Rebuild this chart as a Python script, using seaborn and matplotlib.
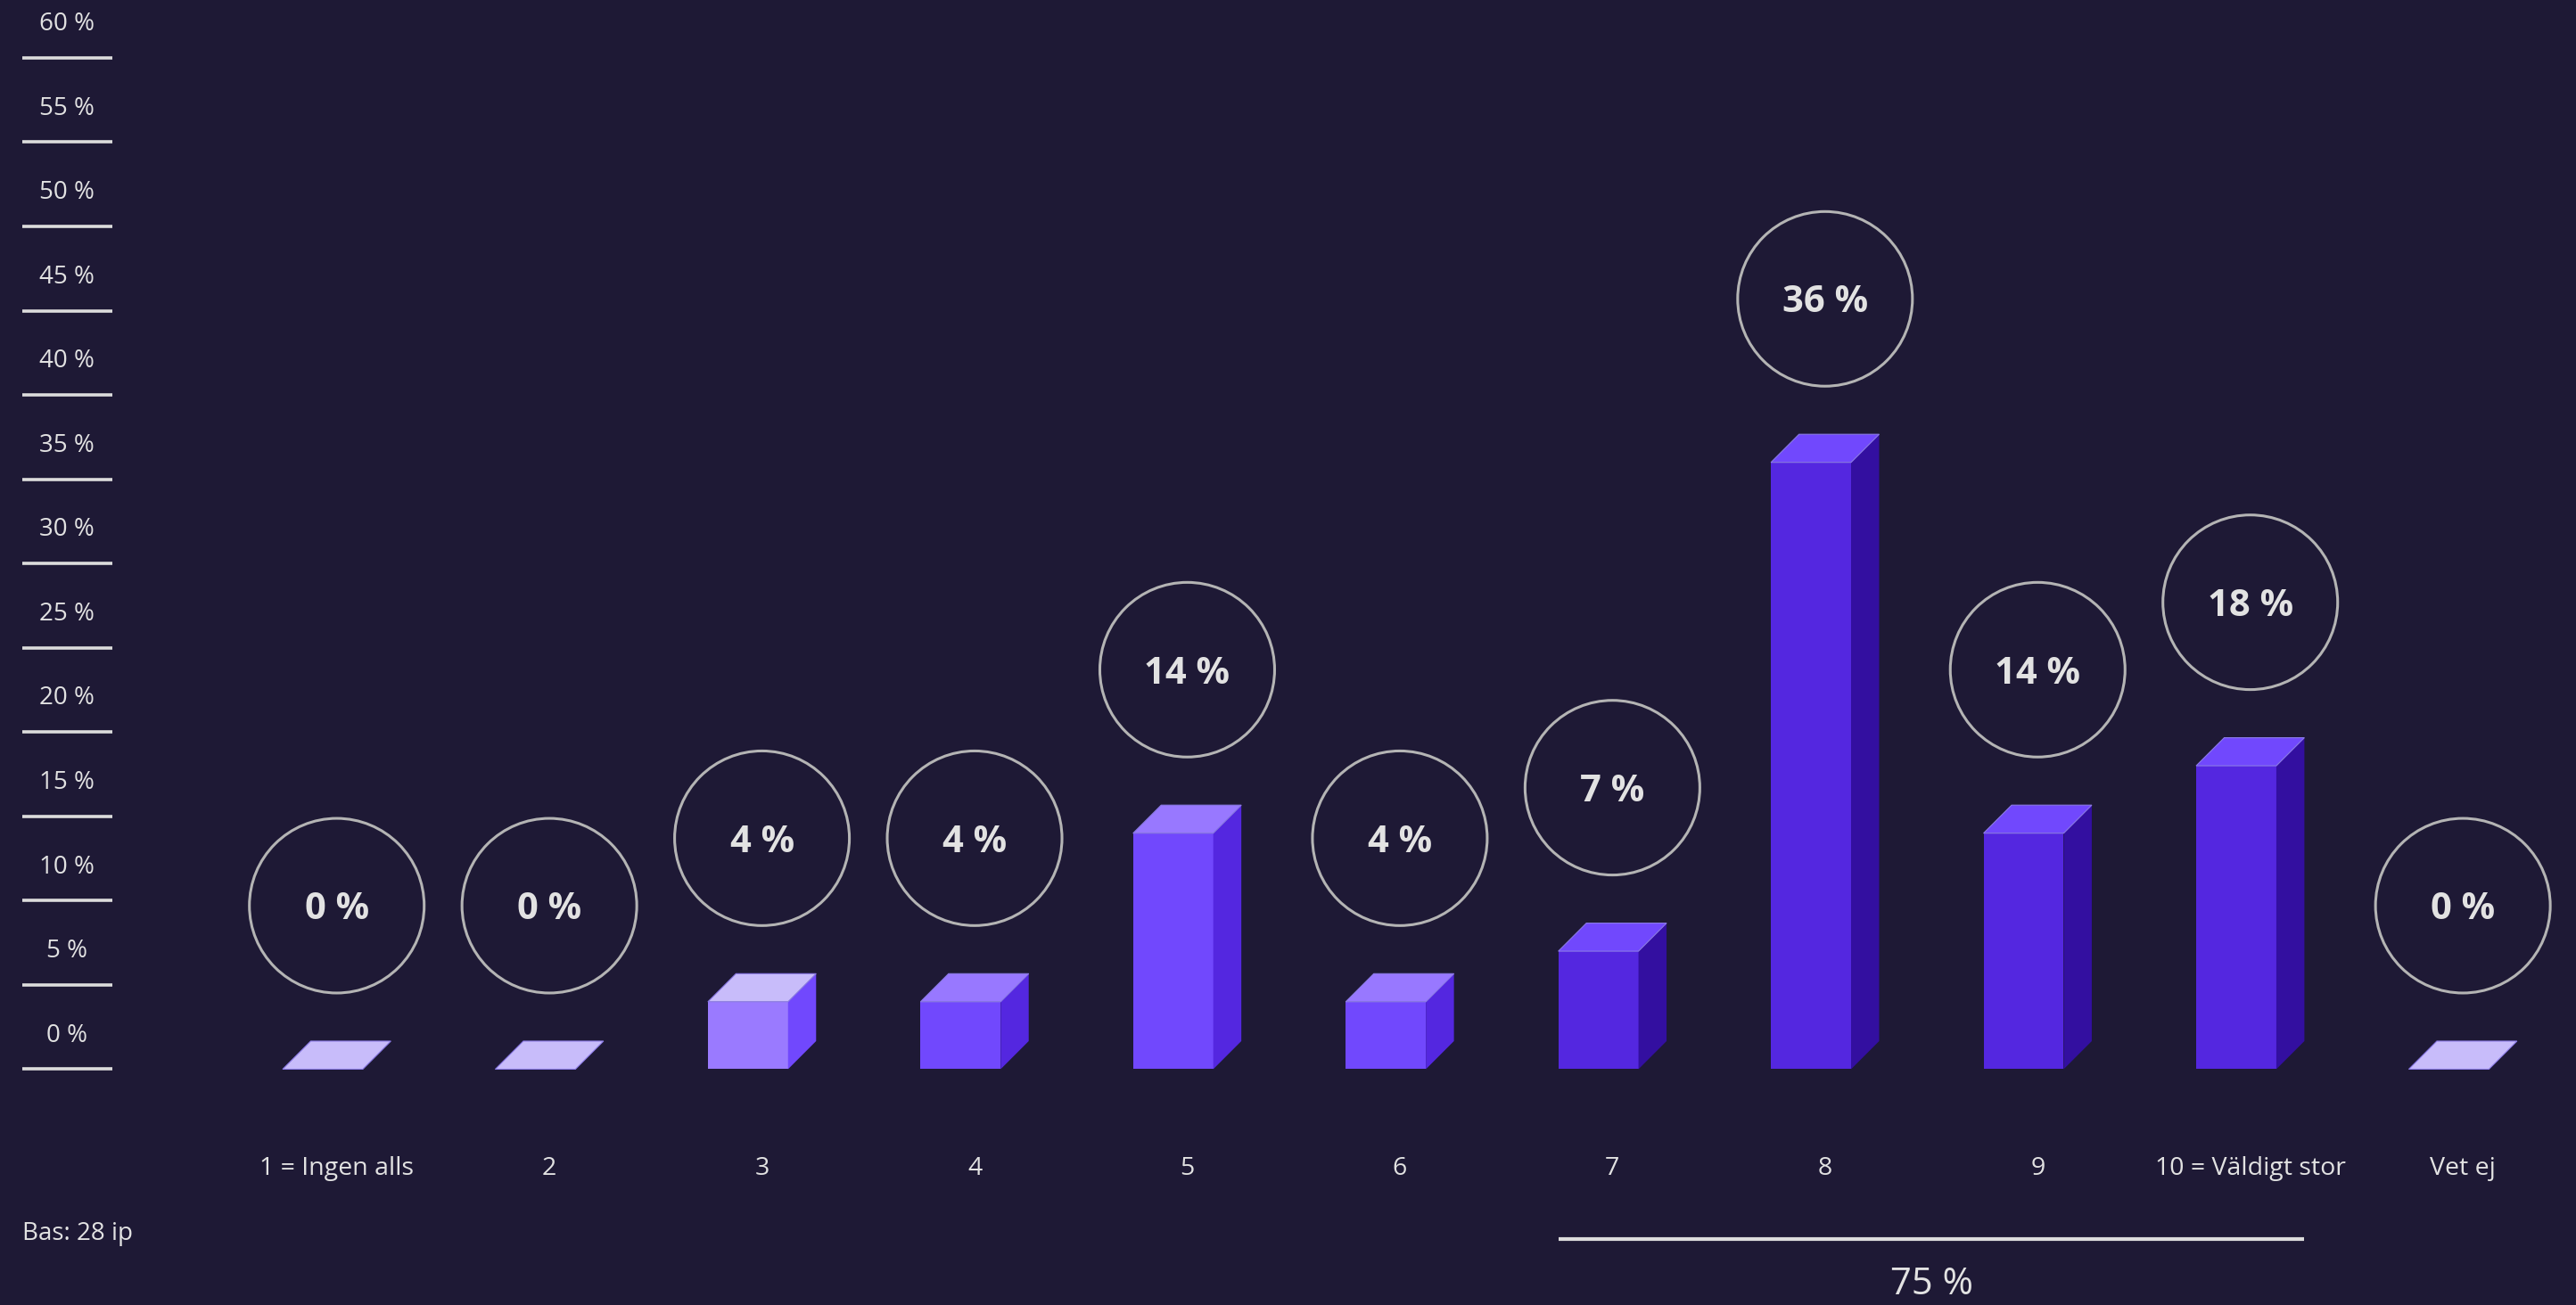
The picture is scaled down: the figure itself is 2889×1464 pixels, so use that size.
import matplotlib
matplotlib.use("Agg")
import matplotlib.pyplot as plt
from matplotlib.patches import Polygon, Ellipse
import seaborn as sns
import pandas as pd

# Survey answers, share of respondents (%)
categories = ["1 = Ingen alls", "2", "3", "4", "5", "6", "7", "8", "9",
              "10 = Väldigt stor", "Vet ej"]
values = [0, 0, 4, 4, 14, 4, 7, 36, 14, 18, 0]
value_labels = ["0 %", "0 %", "4 %", "4 %", "14 %", "4 %", "7 %", "36 %",
                "14 %", "18 %", "0 %"]
y_ticks = [0, 5, 10, 15, 20, 25, 30, 35, 40, 45, 50, 55, 60]
y_tick_labels = ["0 %", "5 %", "10 %", "15 %", "20 %", "25 %", "30 %",
                 "35 %", "40 %", "45 %", "50 %", "55 %", "60 %"]
top_box_start, top_box_end = 6, 9          # "7" .. "10 = Väldigt stor"
base_note = "Bas: 28 ip"

# Face colours (front, top, side) per category
front_colors = ["#c8bcfa", "#c8bcfa", "#9a7aff", "#7148fd", "#7148fd", "#7148fd",
                "#5427e0", "#5427e0", "#5427e0", "#5427e0", "#c8bcfa"]
top_colors = ["#c8bcfa", "#c8bcfa", "#c8bcfa", "#9878ff", "#9878ff", "#9878ff",
              "#7148fd", "#7148fd", "#7148fd", "#7148fd", "#c8bcfa"]
side_colors = ["#7148fd", "#7148fd", "#7148fd", "#5427e0", "#5427e0", "#5427e0",
               "#330fa0", "#330fa0", "#330fa0", "#330fa0", "#7148fd"]

BG = "#1e1935"
TXT = "#e2e2e2"
RING = "#b4b4b4"

sns.set_theme(style="white", rc={"figure.facecolor": BG, "axes.facecolor": BG})
plt.rcParams["font.family"] = ["Open Sans", "DejaVu Sans"]

fig = plt.figure(figsize=(28.89, 14.64), dpi=100)
ax = fig.add_axes([0, 0, 1, 1])
ax.set_facecolor(BG)

df = pd.DataFrame({"cat": categories, "val": values})
bar_w = 0.377
sns.barplot(data=df, x="cat", y="val", hue="cat", order=categories,
            hue_order=categories, palette=front_colors, legend=False,
            width=bar_w, saturation=1, linewidth=0, ax=ax)

# depth of the pseudo-3D extrusion in data units
dx, dy = 0.132, 1.666

for container in ax.containers:
    for bar in container:
        h = bar.get_height()
        idx = int(round(bar.get_x() + bar.get_width() / 2))
        bar.set_x(bar.get_x() - dx / 2)
        bar.set_zorder(2)
        x0 = bar.get_x()
        x1 = x0 + bar.get_width()
        if h > 0:
            ax.add_patch(Polygon([(x1, 0), (x1 + dx, dy), (x1 + dx, h + dy), (x1, h)],
                                 closed=True, facecolor=side_colors[idx],
                                 edgecolor="none", zorder=2))
        ax.add_patch(Polygon([(x0, h), (x1, h), (x1 + dx, h + dy), (x0 + dx, h + dy)],
                             closed=True, facecolor=top_colors[idx],
                             edgecolor="#8b7ae6", linewidth=0.8, zorder=3))

        # value ring above the bar
        cy = h + 9.7
        ax.add_patch(Ellipse((idx, cy), width=0.822, height=10.36, facecolor="none",
                             edgecolor=RING, linewidth=2.2, zorder=4))
        ax.text(idx, cy - 0.25, value_labels[idx], ha="center", va="center",
                fontsize=30, fontweight="bold", color=TXT, zorder=5)

# category labels
for i, c in enumerate(categories):
    ax.text(i, -5.9, c, ha="center", va="center", fontsize=20.5, color=TXT)

# y scale: short rules with labels above
ax.hlines(y_ticks, -1.479, -1.055, color="#dcdcdc", linewidth=2.6)
for t, lab in zip(y_ticks, y_tick_labels):
    ax.text(-1.269, t + 2.0, lab, ha="center", va="center", fontsize=20,
            fontweight="medium", color=TXT)

# top-box bracket
left = top_box_start - (bar_w + dx) / 2
right = top_box_end + (bar_w + dx) / 2
ax.hlines(-10.07, left, right, color="#dcdcdc", linewidth=3)
top_box = sum(values[top_box_start:top_box_end + 1])
ax.text((left + right) / 2, -12.8, f"{top_box} %", ha="center", va="center",
        fontsize=30, color=TXT)

ax.text(-1.479, -9.75, base_note, ha="left", va="center", fontsize=20, color=TXT)

ax.set_xlim(-1.584, 10.532)
ax.set_ylim(-13.99, 63.43)
ax.axis("off")

fig.savefig("out.png", dpi=100, facecolor=BG)
